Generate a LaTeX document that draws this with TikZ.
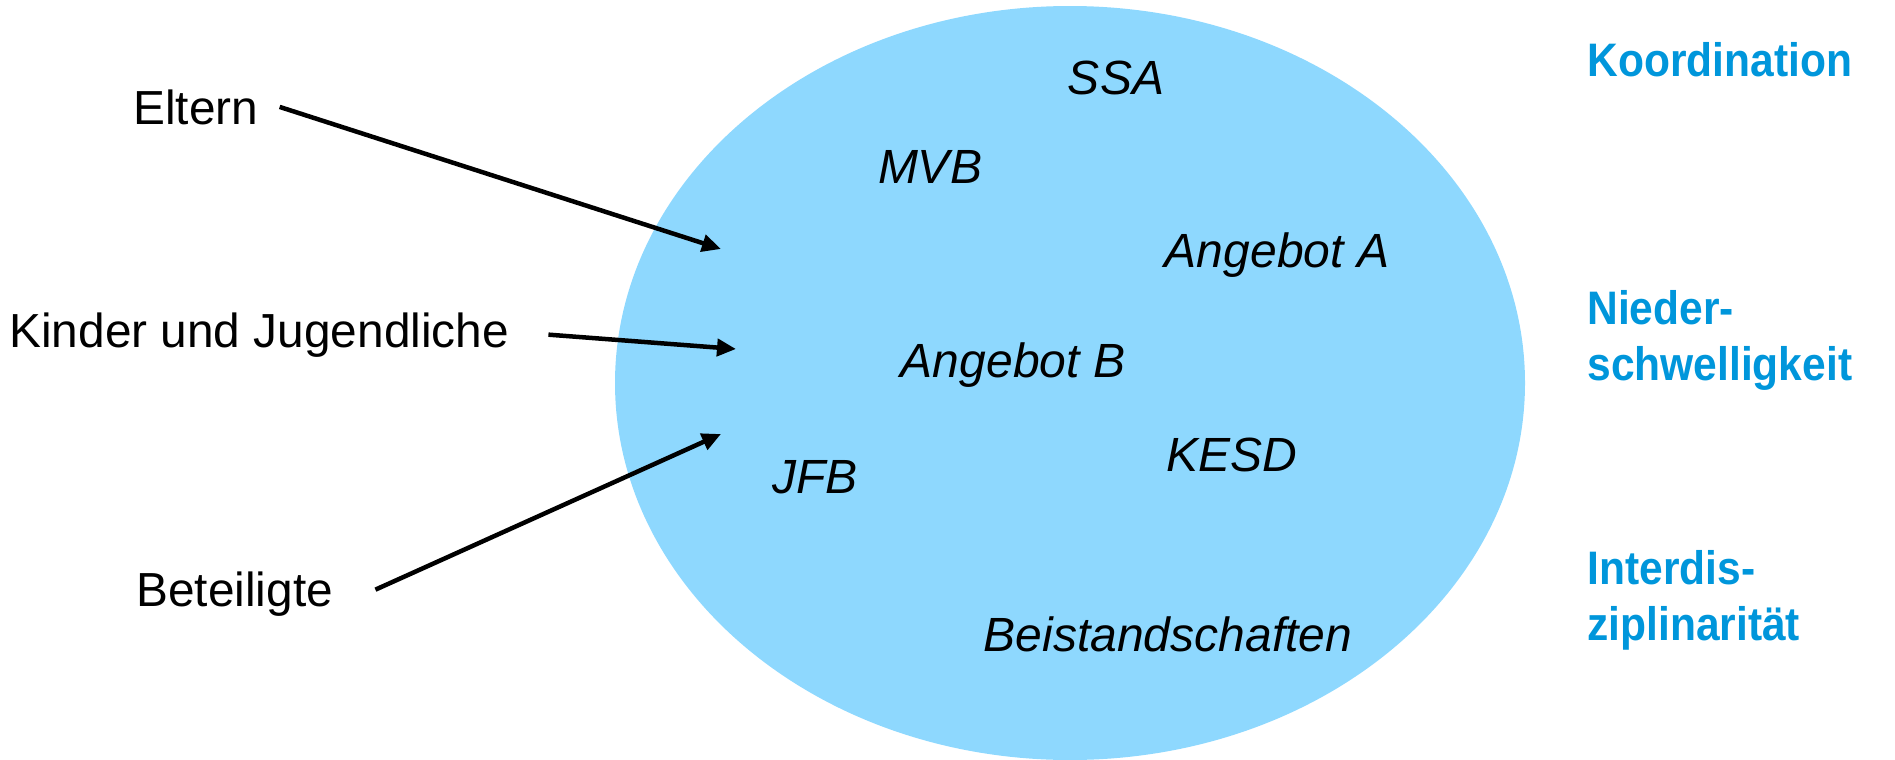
\documentclass[tikz,border=0pt]{standalone}
\usepackage{fontspec}
\setmainfont{Liberation Sans}
\newfontfamily\topicfont[FakeStretch=0.905]{Liberation Sans}
\usepackage{xcolor}
\usepackage{tikz}
\usetikzlibrary{arrows.meta,positioning}

\definecolor{ovalblue}{RGB}{142,216,254}
\definecolor{topicblue}{RGB}{0,150,219}

\begin{document}
\begin{tikzpicture}[x=0.5pt, y=-0.5pt,
    who/.style={inner sep=0pt, anchor=base west, font=\fontsize{23.9}{28}\selectfont},
    unit/.style={inner sep=0pt, anchor=base, font=\fontsize{24}{28}\selectfont\itshape},
    topic/.style={inner sep=0pt, anchor=base west, align=left, text=topicblue,
        font=\topicfont\fontsize{23.5}{28}\selectfont\bfseries},
    feed/.style={line width=2.25pt, -{Triangle[length=9.5pt,width=8.5pt]}}]
\useasboundingbox (0,0) rectangle (1895,760);
\fill[ovalblue] (1070,383) ellipse [x radius=227.5pt, y radius=188.5pt];

% Angebote im Oval
\node[unit] (ssa)   at (1116,94)  {SSA};
\node[unit] (mvb)   at (930,183)  {MVB};
\node[unit] (anga)  at (1277,267) {Angebot A};
\node[unit] (angb)  at (1013,377) {Angebot B};
\node[unit] (kesd)  at (1232,471) {KESD};
\node[unit] (jfb)   at (815,493)  {JFB};
\node[unit] (beist) at (1168,651) {Beistandschaften};

% Zielgruppen
\node[who] (eltern) at (133,124) {Eltern};
\node[who] (kinder) at (9,347)   {Kinder und Jugendliche};
\node[who] (beteil) at (136,606) {Beteiligte};

\coordinate (in1) at (721,249);
\coordinate (in2) at (736,349);
\coordinate (in3) at (721,434);

\draw[feed] ([xshift=10.5pt]eltern.east) -- (in1);
\draw[feed] ([xshift=19.5pt]kinder.east) -- (in2);
\draw[feed] ([xshift=21pt,yshift=2pt]beteil.east) -- (in3);

% Prinzipien rechts
\node[topic] (koord) at (1587,76)  {Koordination};
\node[topic] (nieder) at (1587,380) {Nieder-\\schwelligkeit};
\node[topic] (inter) at (1587,640) {Interdis-\\ziplinarität};
\end{tikzpicture}
\end{document}
